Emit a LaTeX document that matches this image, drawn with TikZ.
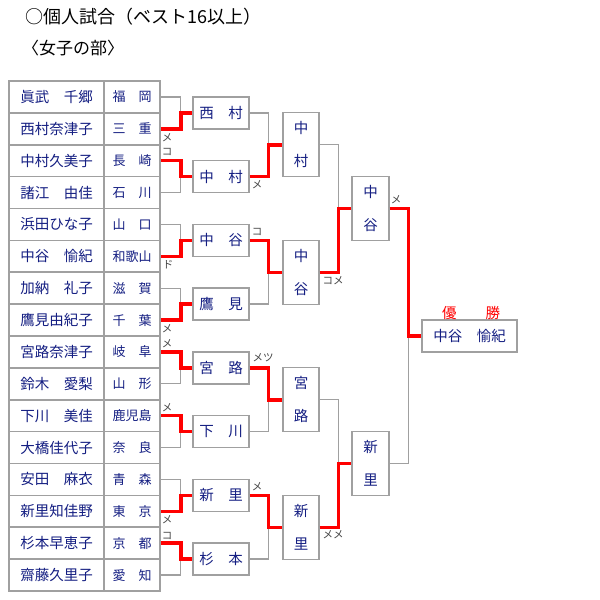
\documentclass[tikz,border=0pt]{standalone}
\usepackage{fontspec}
\newfontfamily\jp{Noto Sans CJK JP}
\definecolor{navy}{RGB}{20,30,130}
\definecolor{lgray}{RGB}{160,160,160}
\definecolor{sgray}{RGB}{70,70,70}
\begin{document}
\begin{tikzpicture}[x=1pt,y=-1pt,
  cell/.style={draw=lgray, line width=1.6pt, minimum height=31.875pt, inner sep=0pt, text=navy},
  namecell/.style={cell, minimum width=95pt, font=\jp\fontsize{14.5}{16}\selectfont},
  prefcell/.style={cell, minimum width=56pt, font=\jp\fontsize{13}{14}\selectfont},
  rbox/.style={draw=lgray, line width=1.3pt, fill=white, text=navy, inner sep=0pt, font=\jp\fontsize{14.5}{16}\selectfont},
  hbox/.style={rbox, minimum width=56pt, minimum height=32pt},
  vbox/.style={rbox, minimum width=36pt, minimum height=64pt, align=center, font=\jp\fontsize{14.5}{33}\selectfont},
  gl/.style={draw=lgray, line width=1.3pt},
  win/.style={draw=red, line width=3.5pt},
  score/.style={text=sgray, inner sep=0pt, font=\jp\fontsize{10.5}{11}\selectfont},
  title/.style={anchor=west, inner sep=0pt, font=\jp\fontsize{18}{20}\selectfont}
]
\useasboundingbox (0,0) rectangle (600,600);
\fill[white] (0,0) rectangle (600,600);

\node[title] (t1) at (25,17) {○個人試合（ベスト16以上）};
\node[title, font=\jp\fontsize{17}{19}\selectfont] (t2) at (22,48) {〈女子の部〉};

\foreach \i/\n/\p in {1/眞武　千郷/福　岡, 2/西村奈津子/三　重, 3/中村久美子/長　崎, 4/諸江　由佳/石　川,
  5/浜田ひな子/山　口, 6/中谷　愉紀/和歌山, 7/加納　礼子/滋　賀, 8/鷹見由紀子/千　葉,
  9/宮路奈津子/岐　阜, 10/鈴木　愛梨/山　形, 11/下川　美佳/鹿児島, 12/大橋佳代子/奈　良,
  13/安田　麻衣/青　森, 14/新里知佳野/東　京, 15/杉本早恵子/京　都, 16/齋藤久里子/愛　知}{
  \node[namecell] (n\i) at (56.5,{81+(\i-0.5)*31.875}) {\n};
  \node[prefcell] (p\i) at (132,{81+(\i-0.5)*31.875}) {\p};
}

\foreach \k/\t in {1/西　村, 2/中　村, 3/中　谷, 4/鷹　見, 5/宮　路, 6/下　川, 7/新　里, 8/杉　本}{
  \node[hbox] (b\k) at (221,{81+(2*\k-1)*31.875}) {\t};
}
\foreach \k/\t in {1/中\\村, 2/中\\谷, 3/宮\\路, 4/新\\里}{
  \node[vbox] (c\k) at (301,{81+(4*\k-2)*31.875}) {\t};
}
\foreach \k/\t in {1/中\\谷, 2/新\\里}{
  \node[vbox, minimum width=37pt] (d\k) at (370.5,{81+(8*\k-4)*31.875}) {\t};
}
\node[hbox, minimum width=95pt] (f) at (469.5,336) {中谷　愉紀};
\node[text=red, inner sep=0pt, font=\jp\fontsize{14.5}{16}\selectfont] (yu) at (471,313) {優　　勝};

% gray brackets
\foreach \k in {1,...,8}{
  \pgfmathtruncatemacro{\a}{2*\k-1}
  \pgfmathtruncatemacro{\b}{2*\k}
  \draw[gl] (p\a.east) -- ++(20,0) |- (b\k.west);
  \draw[gl] (p\b.east) -- ++(20,0) |- (b\k.west);
}
\foreach \k in {1,...,4}{
  \pgfmathtruncatemacro{\a}{2*\k-1}
  \pgfmathtruncatemacro{\b}{2*\k}
  \draw[gl] (b\a.east) -- ++(19,0) |- (c\k.west);
  \draw[gl] (b\b.east) -- ++(19,0) |- (c\k.west);
}
\foreach \k in {1,2}{
  \pgfmathtruncatemacro{\a}{2*\k-1}
  \pgfmathtruncatemacro{\b}{2*\k}
  \draw[gl] (c\a.east) -- ++(19,0) |- (d\k.west);
  \draw[gl] (c\b.east) -- ++(19,0) |- (d\k.west);
}
\draw[gl] (d1.east) -- ++(19,0) |- (f.west);
\draw[gl] (d2.east) -- ++(19,0) |- (f.west);

% winners
\foreach \r/\k in {2/1, 3/2, 6/3, 8/4, 9/5, 11/6, 14/7, 15/8}{
  \draw[win] (p\r.east) -- ++(20,0) |- (b\k.west);
}
\foreach \r/\k in {2/1, 3/2, 5/3, 7/4}{
  \draw[win] (b\r.east) -- ++(19,0) |- (c\k.west);
}
\foreach \r/\k in {2/1, 4/2}{
  \draw[win] (c\r.east) -- ++(19,0) |- (d\k.west);
}
\draw[win] (d1.east) -- ++(19,0) |- (f.west);

% scores
\node[score] (s1) at (167,138) {メ};
\node[score] (s2) at (167,152) {コ};
\node[score] (s3) at (168,265) {ド};
\node[score] (s4) at (167,329) {メ};
\node[score] (s5) at (167,344) {メ};
\node[score] (s6) at (167,408) {メ};
\node[score] (s7) at (167,520) {メ};
\node[score] (s8) at (167,536) {コ};
\node[score] (q1) at (257,185) {メ};
\node[score] (q2) at (257,232) {コ};
\node[score] (q3) at (263,358) {メツ};
\node[score] (q4) at (257,487) {メ};
\node[score] (u1) at (333,281) {コメ};
\node[score] (u2) at (333,535) {メメ};
\node[score] (v1) at (396,200) {メ};
\end{tikzpicture}
\end{document}
